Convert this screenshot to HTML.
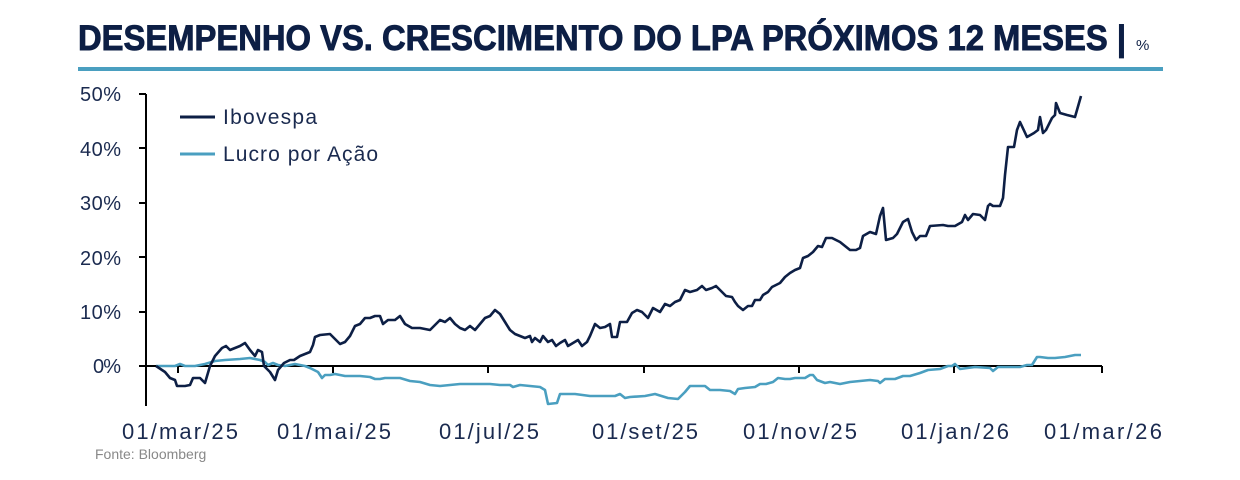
<!DOCTYPE html>
<html><head><meta charset="utf-8"><style>
html,body{margin:0;padding:0;background:#fff;}
svg{display:block;font-family:"Liberation Sans",sans-serif;}
</style></head><body>
<svg width="1240" height="480" viewBox="0 0 1240 480">
<text x="78" y="50" font-size="35" font-weight="bold" fill="#0d1f45" stroke="#0d1f45" stroke-width="0.9" textLength="1048" lengthAdjust="spacingAndGlyphs">DESEMPENHO VS. CRESCIMENTO DO LPA PRÓXIMOS 12 MESES |</text>
<text x="1136" y="50" font-size="15" fill="#0d1f45">%</text>
<rect x="78" y="67" width="1085" height="4" fill="#4a9fc0"/>
<g font-size="20" fill="#1a2a4f" text-anchor="end">
<text x="121" y="101" textLength="41">50%</text><text x="121" y="156" textLength="41">40%</text><text x="121" y="210" textLength="41">30%</text>
<text x="121" y="265" textLength="41">20%</text><text x="121" y="319" textLength="41">10%</text><text x="121" y="373" textLength="28">0%</text>
</g>
<g stroke="#000" stroke-width="2" fill="none">
<line x1="146" y1="94" x2="146" y2="406"/>
<line x1="139" y1="94" x2="146" y2="94"/><line x1="139" y1="148" x2="146" y2="148"/>
<line x1="139" y1="203" x2="146" y2="203"/><line x1="139" y1="257" x2="146" y2="257"/>
<line x1="139" y1="312" x2="146" y2="312"/><line x1="139" y1="366" x2="146" y2="366"/>
<line x1="146" y1="366" x2="1102" y2="366"/>
<line x1="178" y1="366" x2="178" y2="373"/><line x1="333" y1="366" x2="333" y2="373"/>
<line x1="488" y1="366" x2="488" y2="373"/><line x1="644" y1="366" x2="644" y2="373"/>
<line x1="799" y1="366" x2="799" y2="373"/><line x1="954" y1="366" x2="954" y2="373"/>
<line x1="1102" y1="366" x2="1102" y2="373"/>
</g>
<g font-size="22" fill="#1a2a4f" text-anchor="middle" lengthAdjust="spacingAndGlyphs">
<text x="180" y="439" textLength="116">01/mar/25</text><text x="334" y="439" textLength="114">01/mai/25</text><text x="489" y="439" textLength="100">01/jul/25</text>
<text x="645" y="439" textLength="106">01/set/25</text><text x="800" y="439" textLength="114">01/nov/25</text><text x="955" y="439" textLength="108">01/jan/26</text>
<text x="1103" y="439" textLength="118">01/mar/26</text>
</g>
<text x="95" y="459" font-size="14" fill="#888">Fonte: Bloomberg</text>
<line x1="180" y1="117" x2="215" y2="117" stroke="#0d1f45" stroke-width="3"/>
<text x="223" y="124" font-size="21" fill="#1a2a4f" textLength="94">Ibovespa</text>
<line x1="180" y1="154" x2="215" y2="154" stroke="#4a9fc0" stroke-width="3"/>
<text x="223" y="161" font-size="21" fill="#1a2a4f" textLength="155">Lucro por Ação</text>
<polyline fill="none" stroke="#4a9fc0" stroke-width="2.6" stroke-linejoin="round" points="156,366 170,366 175,366 180,364 185,366 195,366 205,364 215,361 225,360 240,359 250,358 260,360 265,362 268,365 273,363 278,365 285,366 295,364 305,366 310,368 318,372 322,378 325,375 330,375 335,374 340,375 345,376 353,376 360,376 370,377 375,379 380,379 385,378 400,378 410,381 420,382 430,385 440,386 450,385 460,384 470,384 480,384 490,384 500,385 505,385 510,385 513,387 520,385 530,386 540,387 545,390 548,404 557,403 560,394 565,394 575,394 590,396 600,396 615,396 620,394 625,398 630,397 645,396 655,394 668,398 678,399 685,392 690,386 698,386 705,386 710,390 720,390 730,391 735,394 738,389 745,388 755,387 760,384 766,384 773,382 778,378 785,379 790,379 795,378 805,378 810,375 813,375 817,380 825,383 830,382 840,384 850,382 860,381 870,380 878,381 880,383 885,379 895,379 903,376 910,376 920,373 928,370 940,369 948,366 952,366 955,364 960,369 975,367 990,368 993,371 998,367 1010,367 1020,367 1027,365 1032,365 1037,357 1040,357 1048,358 1055,358 1065,357 1075,355 1081,355"/>
<polyline fill="none" stroke="#0d1f45" stroke-width="2.6" stroke-linejoin="round" points="156,366 165,372 170,378 175,380 177,386 185,386 190,385 193,378 200,378 205,383 210,366 215,356 222,348 226,346 230,350 235,348 240,346 245,343 250,350 255,356 258,350 262,352 264,366 270,372 275,380 278,370 284,363 290,360 294,360 300,356 305,354 310,352 313,345 315,337 320,335 330,334 340,344 345,342 350,336 355,326 360,324 365,318 370,318 375,316 380,316 383,324 388,320 395,320 400,316 405,324 412,328 420,328 430,330 435,325 440,320 445,322 450,318 455,324 460,328 465,330 470,326 475,330 480,324 485,318 490,316 495,310 500,314 505,322 510,330 515,334 520,336 525,338 530,336 532,342 535,338 540,342 543,336 548,342 552,340 556,346 560,343 565,340 568,346 573,343 578,340 582,346 587,342 590,336 595,324 600,328 605,327 610,324 612,337 617,337 620,322 627,322 632,313 637,310 642,312 648,318 653,308 660,312 665,304 670,306 675,302 680,300 685,290 690,292 697,290 702,286 706,290 712,288 716,286 722,292 726,296 732,297 735,302 738,306 743,310 748,306 752,306 755,300 760,300 763,295 768,292 772,287 780,283 785,277 790,273 795,270 800,268 803,258 808,256 813,252 818,246 822,247 826,238 832,238 840,242 845,246 850,250 856,250 860,248 863,236 870,232 876,234 880,216 883,208 886,240 893,238 897,234 903,222 908,219 912,232 916,240 920,236 926,236 930,226 943,225 948,226 955,226 962,222 965,215 968,220 973,214 980,215 985,220 988,206 990,204 993,206 1000,206 1003,198 1005,175 1008,147 1014,147 1017,130 1020,122 1027,137 1034,133 1038,130 1040,117 1043,133 1046,130 1052,118 1055,115 1056,103 1060,113 1067,115 1075,117 1081,96"/>
</svg>
</body></html>
